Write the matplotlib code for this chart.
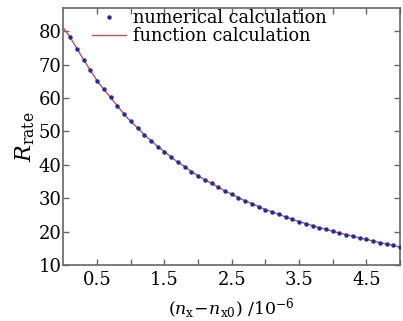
import matplotlib
matplotlib.use("Agg")
import matplotlib.pyplot as plt
import numpy as np

# numerical calculation points (x in 1e-6, R_rate)
x_num = [0.1, 0.2, 0.3, 0.4, 0.5, 0.6, 0.7, 0.8, 0.9, 1.0,
         1.1, 1.2, 1.3, 1.4, 1.5, 1.6, 1.7, 1.8, 1.9, 2.0,
         2.1, 2.2, 2.3, 2.4, 2.5, 2.6, 2.7, 2.8, 2.9, 3.0,
         3.1, 3.2, 3.3, 3.4, 3.5, 3.6, 3.7, 3.8, 3.9, 4.0,
         4.1, 4.2, 4.3, 4.4, 4.5, 4.6, 4.7, 4.8, 4.9, 5.0]
y_num = [78.2, 74.8, 71.5, 68.3, 65.2, 62.6, 60.2, 57.7, 55.2, 53.0,
         51.1, 49.0, 47.3, 45.5, 44.0, 42.3, 40.8, 39.5, 38.0, 36.7,
         35.5, 34.5, 33.3, 32.2, 31.2, 30.2, 29.2, 28.4, 27.5, 26.6,
         25.9, 25.2, 24.4, 23.7, 23.0, 22.4, 21.8, 21.2, 20.7, 20.1,
         19.6, 19.1, 18.6, 18.1, 17.7, 17.2, 16.7, 16.3, 15.9, 15.3]

# function calculation curve
x_fun = [0.0] + x_num
y_fun = [81.0] + y_num

xticks = [0.5, 1.0, 1.5, 2.0, 2.5, 3.0, 3.5, 4.0, 4.5, 5.0]
xticklabels = ["0.5", "", "1.5", "", "2.5", "", "3.5", "", "4.5", ""]
yticks = [10, 20, 30, 40, 50, 60, 70, 80]

plt.rcParams['font.family'] = ['DejaVu Serif']
plt.rcParams['mathtext.fontset'] = 'dejavuserif'

fig = plt.figure(figsize=(4.03, 3.21), dpi=100)
ax = fig.add_axes([63.5/403, 1-265/321, (400-63.5)/403, (265-8)/321])

ax.plot(x_fun, y_fun, color='#b5545c', lw=1.0, label='function calculation', zorder=2)
ax.plot(x_num, y_num, linestyle='none', marker='o', markersize=2.2,
        color='#2b2b8f', label='numerical calculation', zorder=3)

ax.set_xlim(0, 5.0)
ax.set_ylim(10, 87)
ax.set_xticks(xticks)
ax.set_xticklabels(xticklabels)
ax.set_yticks(yticks)

for s in ax.spines.values():
    s.set_color('#666666')
    s.set_linewidth(1.2)
ax.tick_params(direction='in', top=True, right=True, length=4, width=1,
               color='#666666', labelsize=13)
ax.tick_params(axis='y', pad=1.5)
ax.tick_params(axis='x', pad=4)

ax.set_ylabel(r'$R_{\mathrm{rate}}$', fontsize=16, labelpad=1)
ax.set_xlabel(r'$(n_{\mathrm{x}}\!-\!n_{\mathrm{x0}})\ /10^{-6}$', fontsize=12.5, labelpad=6)

h, l = ax.get_legend_handles_labels()
ax.legend([h[1], h[0]], [l[1], l[0]], loc='upper left',
          bbox_to_anchor=((92-63.5)/336.5, (265-9)/257), frameon=False,
          fontsize=12.8, borderpad=0, borderaxespad=0, handlelength=1.9,
          handletextpad=0.4, labelspacing=0.0, numpoints=1)

fig.savefig('out.png', dpi=100)
